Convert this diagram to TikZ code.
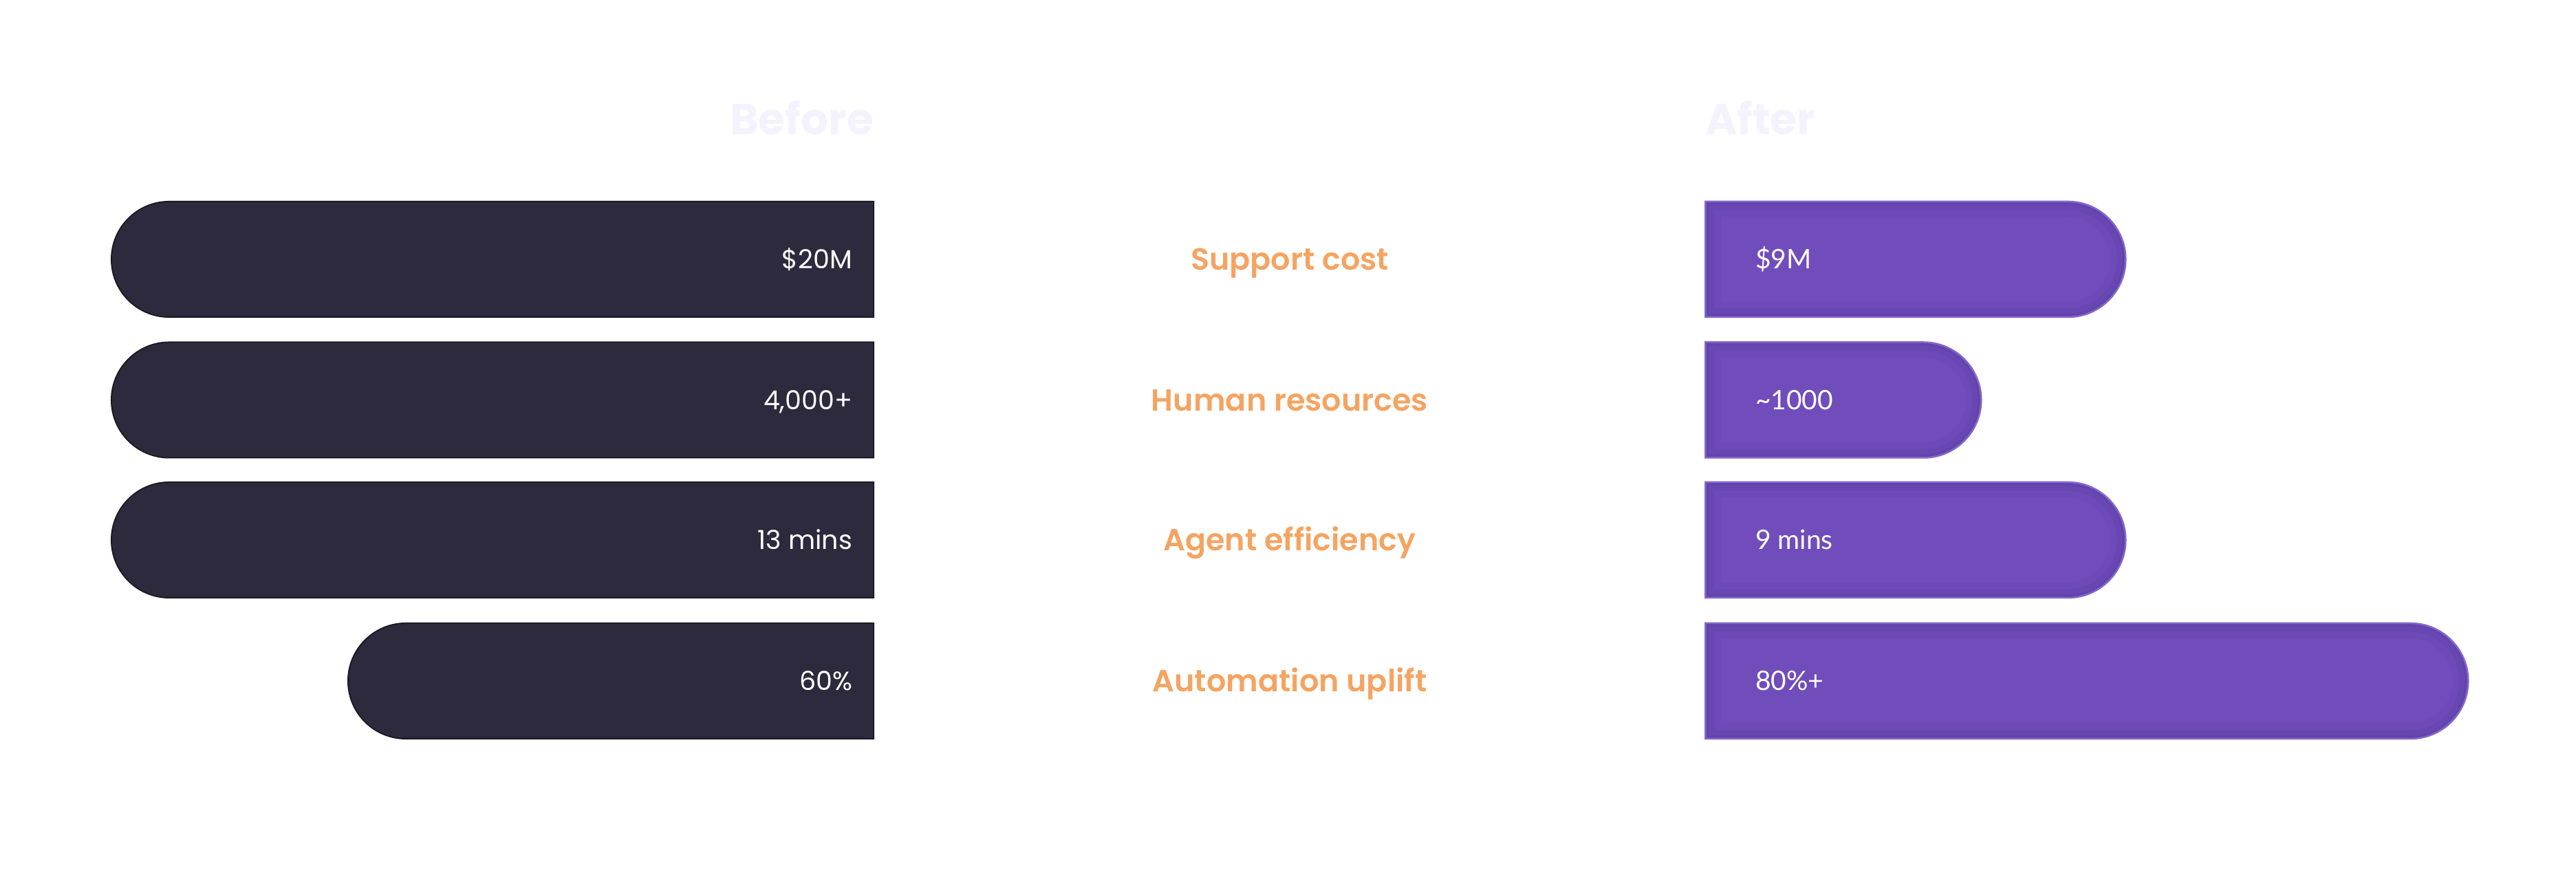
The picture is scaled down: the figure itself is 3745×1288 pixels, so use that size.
\documentclass[tikz,border=0pt]{standalone}
\usepackage{fontspec}
\setmainfont{Poppins}
\newfontfamily\latofont{Lato}
\newfontfamily\popsemi{Poppins SemiBold}
\usetikzlibrary{shapes.misc}
\definecolor{darkbar}{HTML}{2D2A3D}
\definecolor{darkedge}{HTML}{1C1A24}
\definecolor{purplebar}{HTML}{704DBB}
\definecolor{purpleedge}{HTML}{8468C9}
\definecolor{purpleshade}{HTML}{4A2C8C}
\definecolor{labelorange}{HTML}{F4A462}
\definecolor{headfaint}{HTML}{F4F2FC}
\tikzset{
  beforebar/.style={rounded rectangle, rounded rectangle east arc=none,
    minimum height=33.6pt, minimum width=#1, inner sep=0pt, anchor=east,
    fill=darkbar, draw=darkedge, line width=0.4pt},
  afterbar/.style={rounded rectangle, rounded rectangle west arc=none,
    minimum height=33.6pt, minimum width=#1, inner sep=0pt, anchor=west,
    fill=purplebar, draw=purpleedge, line width=0.5pt,
    path picture={
      \draw[purpleshade, line width=9pt, opacity=0.07]
        (path picture bounding box.south west) -- (path picture bounding box.north west)
        -- ([xshift=-16.8pt]path picture bounding box.north east)
        arc[start angle=90, end angle=-90, radius=16.8pt] -- cycle;
      \draw[purpleshade, line width=5pt, opacity=0.09]
        (path picture bounding box.south west) -- (path picture bounding box.north west)
        -- ([xshift=-16.8pt]path picture bounding box.north east)
        arc[start angle=90, end angle=-90, radius=16.8pt] -- cycle;
      \draw[purpleshade, line width=2pt, opacity=0.12]
        (path picture bounding box.south west) -- (path picture bounding box.north west)
        -- ([xshift=-16.8pt]path picture bounding box.north east)
        arc[start angle=90, end angle=-90, radius=16.8pt] -- cycle;
    }},
  leftval/.style={anchor=east, text=white, font=\fontsize{7.6pt}{9pt}\selectfont,
    text height=5.6pt, text depth=0pt, inner sep=0pt},
  rightval/.style={anchor=west, text=white, font=\latofont\fontsize{7.8pt}{9pt}\selectfont,
    text height=5.6pt, text depth=0pt, inner sep=0pt},
  metric/.style={text=labelorange, font=\popsemi\fontsize{8.9pt}{10pt}\selectfont,
    text height=6.3pt, text depth=0pt, inner sep=0pt},
  heading/.style={text=headfaint, font=\bfseries\fontsize{12.6pt}{15pt}\selectfont,
    text height=9.1pt, text depth=0pt, inner sep=0pt},
}
\begin{document}
\begin{tikzpicture}[x=0.2pt, y=0.2pt]
\useasboundingbox (0,0) rectangle (3745,1288);
% headings
\node[heading, anchor=east] (hbefore) at (1271,1115) {Before};
\node[heading, anchor=west] (hafter) at (2478,1115) {After};
% before bars
\node[beforebar=221.6pt] (b1) at (1271,911) {};
\node[beforebar=221.6pt] (b2) at (1271,706.5) {};
\node[beforebar=221.6pt] (b3) at (1271,503) {};
\node[beforebar=152.8pt] (b4) at (1271,298) {};
% after bars
\node[afterbar=122.2pt] (a1) at (2478,911) {};
\node[afterbar=80.2pt] (a2) at (2478,706.5) {};
\node[afterbar=122.2pt] (a3) at (2478,503) {};
\node[afterbar=221.8pt] (a4) at (2478,298) {};
% values
\node[leftval] (v1) at (1240,911) {\$20M};
\node[leftval] (v2) at (1240,706.5) {4,000+};
\node[leftval] (v3) at (1240,503) {13 mins};
\node[leftval] (v4) at (1240,298) {60\%};
\node[rightval] (w1) at (2551,911) {\$9M};
\node[rightval] (w2) at (2551,706.5) {\textasciitilde1000};
\node[rightval] (w3) at (2551,503) {9 mins};
\node[rightval] (w4) at (2551,298) {80\%+};
% metrics
\node[metric] (m1) at (1875,911) {Support cost};
\node[metric] (m2) at (1875,706.5) {Human resources};
\node[metric] (m3) at (1875,503) {Agent efficiency};
\node[metric] (m4) at (1875,298) {Automation uplift};
\end{tikzpicture}
\end{document}
